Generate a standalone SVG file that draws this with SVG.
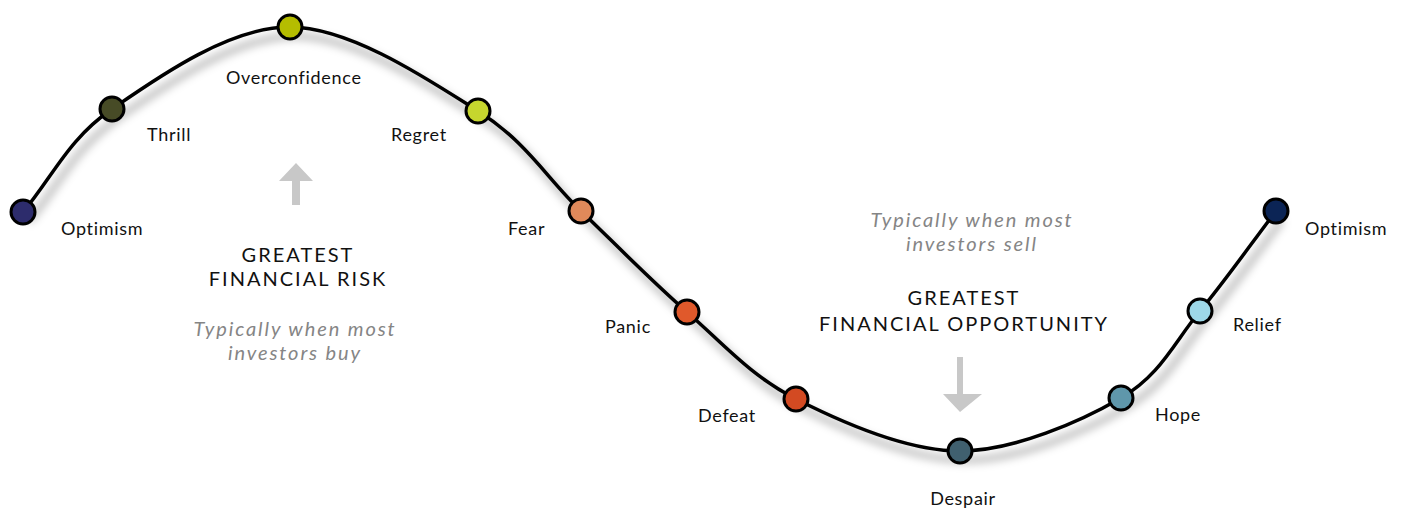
<svg xmlns="http://www.w3.org/2000/svg" width="1402" height="508" viewBox="0 0 1402 508">
  <defs>
    <filter id="blur" x="-10%" y="-20%" width="120%" height="140%">
      <feGaussianBlur stdDeviation="4"/>
    </filter>
    <style>
      .lbl { font-family: Lato, "Liberation Sans", sans-serif; font-size: 18px; letter-spacing: 0.7px; fill: #111; }
      .big { font-family: Lato, "Liberation Sans", sans-serif; font-size: 20px; letter-spacing: 2px; fill: #111; text-anchor: middle; }
      .ital { font-family: Lato, "Liberation Sans", sans-serif; font-size: 20px; letter-spacing: 1.9px; font-style: italic; fill: #858585; text-anchor: middle; }
      .node { stroke: #000; stroke-width: 3; }
      .arrow { fill: #c8c8c8; }
    </style>
  </defs>
  <rect width="1402" height="508" fill="#fff"/>

  <g id="connectors">
    <path id="shadow" d="M23,212 C52.67,177 67.5,139.67 112,109 C156.5,78.33 229,26.67 290,27 C351,27.33 429.5,80.33 478,111 C526.5,141.67 546.170,177.5 581,211 C615.83,244.5 651.17,280.67 687,312 C722.83,343.33 750.5,375.83 796,399 C841.5,422.17 905.83,451.17 960,451 C1014.17,450.83 1081,421.33 1121,398 C1161,374.67 1174.17,342.17 1200,311 C1225.83,279.83 1250.67,244.33 1276,211" fill="none" stroke="#000" stroke-opacity="0.25" stroke-width="7" transform="translate(6,9)" filter="url(#blur)"/>
    <path id="curve" d="M23,212 C52.67,177 67.5,139.67 112,109 C156.5,78.33 229,26.67 290,27 C351,27.33 429.5,80.33 478,111 C526.5,141.67 546.17,177.5 581,211 C615.83,244.5 651.17,280.67 687,312 C722.83,343.33 750.5,375.83 796,399 C841.5,422.17 905.83,451.17 960,451 C1014.17,450.83 1081,421.33 1121,398 C1161,374.67 1174.17,342.17 1200,311 C1225.83,279.83 1250.67,244.33 1276,211" fill="none" stroke="#000" stroke-width="3.5"/>
  </g>

  <g id="n-optimism1"><circle class="node" cx="23" cy="212" r="12" fill="#2d2c6c"/><text class="lbl" x="61" y="235">Optimism</text></g>
  <g id="n-thrill"><circle class="node" cx="112" cy="109" r="12" fill="#474b26"/><text class="lbl" x="147" y="141">Thrill</text></g>
  <g id="n-overconfidence"><circle class="node" cx="290" cy="27" r="12" fill="#b5bd00"/><text class="lbl" x="226" y="84">Overconfidence</text></g>
  <g id="n-regret"><circle class="node" cx="478" cy="111" r="12" fill="#c6d62e"/><text class="lbl" x="391" y="141">Regret</text></g>
  <g id="n-fear"><circle class="node" cx="581" cy="211" r="12" fill="#e0895a"/><text class="lbl" x="508" y="235">Fear</text></g>
  <g id="n-panic"><circle class="node" cx="687" cy="312" r="12" fill="#e0592b"/><text class="lbl" x="605" y="333">Panic</text></g>
  <g id="n-defeat"><circle class="node" cx="796" cy="399" r="12" fill="#d34a22"/><text class="lbl" x="698" y="422">Defeat</text></g>
  <g id="n-despair"><circle class="node" cx="960" cy="451" r="12" fill="#40606f"/><text class="lbl" x="963" y="505" text-anchor="middle">Despair</text></g>
  <g id="n-hope"><circle class="node" cx="1121" cy="398" r="12" fill="#5f97ab"/><text class="lbl" x="1155" y="421">Hope</text></g>
  <g id="n-relief"><circle class="node" cx="1200" cy="311" r="12" fill="#9dd8e8"/><text class="lbl" x="1233" y="331">Relief</text></g>
  <g id="n-optimism2"><circle class="node" cx="1276" cy="211" r="12" fill="#0b2455"/><text class="lbl" x="1305" y="235">Optimism</text></g>

  <g id="risk">
    <polygon class="arrow" points="296,163 313,181 300,181 300,205 292,205 292,181 279,181"/>
    <text class="big" x="298" y="261.5">GREATEST</text>
    <text class="big" x="298" y="285.5">FINANCIAL RISK</text>
    <text class="ital" x="295" y="336">Typically when most</text>
    <text class="ital" x="295" y="360">investors buy</text>
  </g>

  <g id="opportunity">
    <text class="ital" x="972" y="227">Typically when most</text>
    <text class="ital" x="972" y="251">investors sell</text>
    <text class="big" x="964" y="305">GREATEST</text>
    <text class="big" x="964" y="331">FINANCIAL OPPORTUNITY</text>
    <polygon class="arrow" points="957,357 963,357 963,394 982,394 960,412 943,394 957,394"/>
  </g>
</svg>
